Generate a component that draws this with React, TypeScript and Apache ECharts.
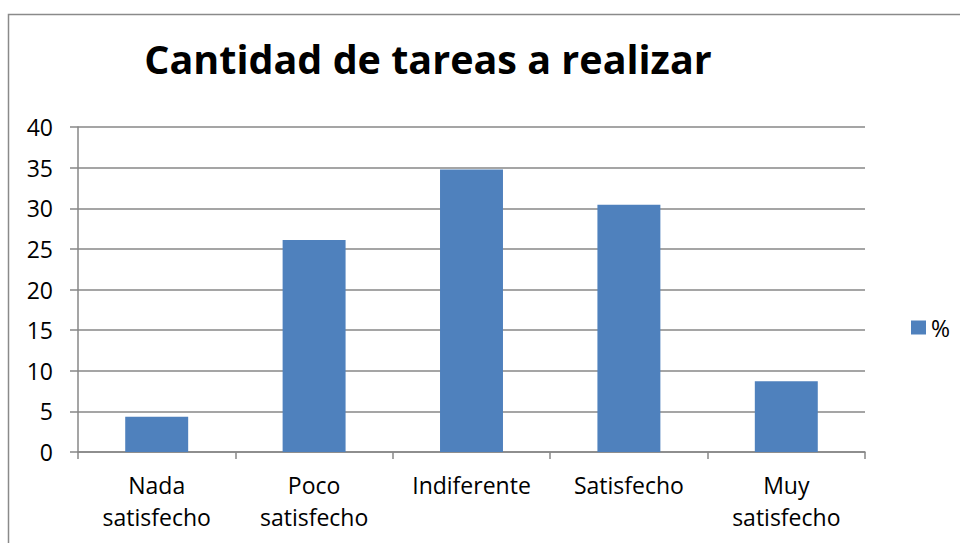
import React, { useEffect, useRef } from "react";
import * as echarts from "echarts";

const categories = ["Nada\nsatisfecho", "Poco\nsatisfecho", "Indiferente", "Satisfecho", "Muy\nsatisfecho"];
const values = [4.35, 26.09, 34.78, 30.43, 8.7];
const seriesName = "%";
const titleText = "Cantidad de tareas a realizar";

export default function App() {
  const ref = useRef<HTMLDivElement>(null);
  useEffect(() => {
    const chart = echarts.init(ref.current!, null, { renderer: "svg" });
    const font = "'Open Sans', Lato, sans-serif";
    chart.setOption({
      animation: false,
      backgroundColor: "#ffffff",
      textStyle: { fontFamily: font },
      title: {
        text: titleText,
        left: 423,
        textAlign: "center",
        top: 34,
        textStyle: { fontFamily: font, fontSize: 39.5, fontWeight: "bold", color: "#000" },
      },
      graphic: [
        {
          type: "rect",
          shape: { x: 8.5, y: 14.5, width: 1000, height: 600 },
          style: { fill: "none", stroke: "#8a8a8a", lineWidth: 1.5 },
          silent: true,
        },
      ],
      legend: {
        left: 906,
        top: 311,
        itemWidth: 15,
        itemHeight: 14,
        icon: "rect",
        itemGap: 5,
        textStyle: { fontFamily: font, fontSize: 23, color: "#000", padding: [0, 0, 0, 0] },
        data: [seriesName],
      },
      grid: { left: 78, right: 95, top: 127, bottom: 91, containLabel: false },
      xAxis: {
        type: "category",
        data: categories,
        axisLine: { lineStyle: { color: "#878787", width: 1.5 } },
        axisTick: { show: true, length: 7, alignWithLabel: false, lineStyle: { color: "#878787", width: 1.5 } },
        axisLabel: { fontFamily: font, fontSize: 23, color: "#000", margin: 17, lineHeight: 32, interval: 0 },
      },
      yAxis: {
        type: "value",
        min: 0,
        max: 40,
        interval: 5,
        axisLine: { show: true, lineStyle: { color: "#878787", width: 1.5 } },
        axisTick: { show: true, length: 8, lineStyle: { color: "#878787", width: 1.5 } },
        axisLabel: { fontFamily: font, fontSize: 23, color: "#000", margin: 25 },
        splitLine: { show: true, lineStyle: { color: "#878787", width: 1.5 } },
      },
      series: [
        {
          name: seriesName,
          type: "bar",
          data: values,
          barCategoryGap: "60%",
          itemStyle: { color: "#4F81BD" },
        },
      ],
    });
    return () => chart.dispose();
  }, []);
  return <div ref={ref} style={{ position: "absolute", left: 0, top: 0, width: 960, height: 543 }} />;
}
